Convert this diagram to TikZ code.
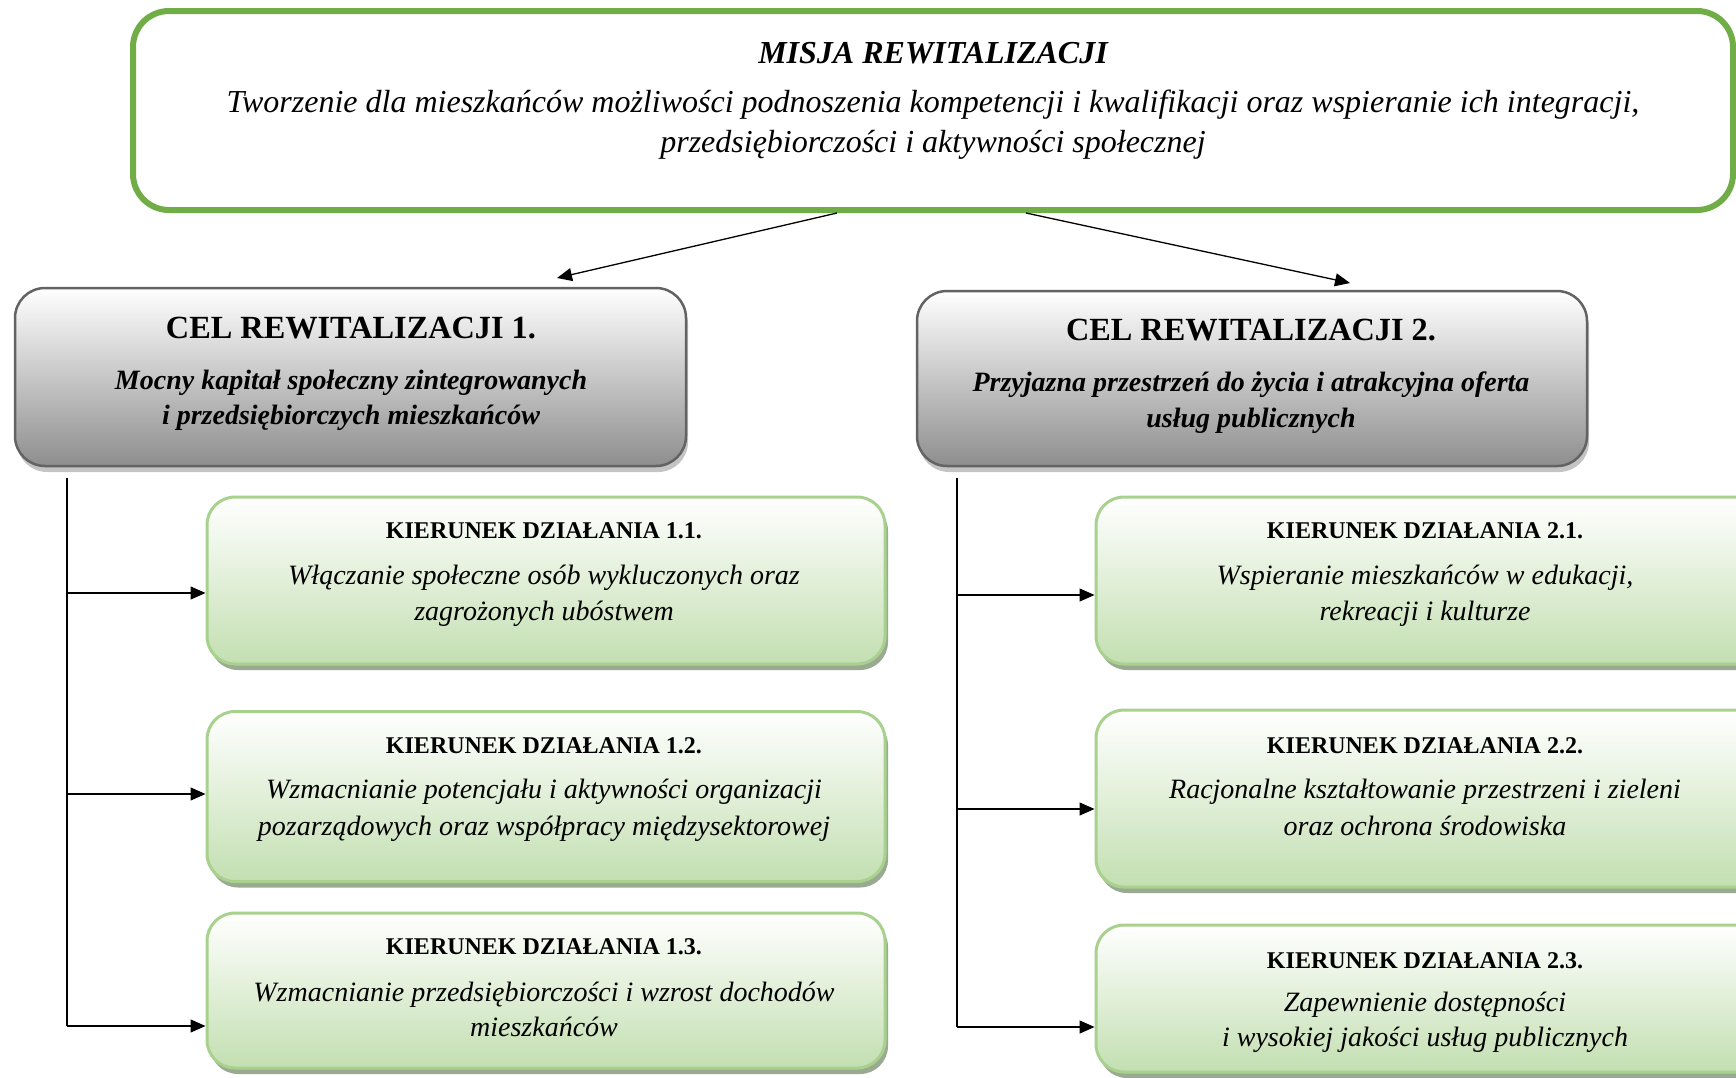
\documentclass[tikz,border=0pt]{standalone}
\usepackage{fontspec}
\setmainfont{Liberation Serif}
\usetikzlibrary{arrows.meta,shadows}
\definecolor{misgreen}{HTML}{70AD47}
\definecolor{celgray}{HTML}{636363}
\definecolor{celbot}{HTML}{8E8E8E}
\definecolor{celshadow}{HTML}{C4C4C4}
\definecolor{kdgreen}{HTML}{A9D18E}
\definecolor{kdbot}{HTML}{C3DFB1}
\definecolor{kdshadow}{HTML}{9AAA92}
\tikzset{
  misbox/.style={draw=misgreen, line width=6pt, rounded corners=36pt, fill=white, inner sep=0pt},
  celbox/.style={draw=celgray, line width=2.5pt, rounded corners=30pt, top color=white, bottom color=celbot, inner sep=0pt,
    drop shadow={shadow xshift=2pt, shadow yshift=-6pt, fill=celshadow, opacity=1}},
  kdbox/.style={draw=kdgreen, line width=3pt, rounded corners=28pt, top color=white, bottom color=kdbot, inner sep=0pt,
    drop shadow={shadow xshift=3pt, shadow yshift=-6pt, fill=kdshadow, opacity=1}},
  txt/.style={anchor=base, inner sep=0pt},
  mtitle/.style={txt, font=\fontsize{32}{38}\selectfont\bfseries\itshape},
  mbody/.style={txt, font=\fontsize{32}{38}\selectfont\itshape},
  ctitle/.style={txt, font=\fontsize{32.3}{38}\selectfont\bfseries},
  csub/.style={txt, font=\fontsize{28}{33}\selectfont\bfseries\itshape},
  ktitle/.style={txt, font=\fontsize{24}{28}\selectfont\bfseries},
  kbody/.style={txt, font=\fontsize{28}{33}\selectfont\itshape},
  link/.style={line width=1.3pt, -{Triangle[length=15pt,width=13pt]}},
  trunk/.style={line width=1.2pt},
}
\begin{document}
\begin{tikzpicture}[x=1pt,y=-1pt]
\useasboundingbox (0,0) rectangle (1736,1077);
\clip (0,0) rectangle (1736,1077);
% mission
\node[misbox, minimum width=1600pt, minimum height=199pt] (m) at (933,110.5) {};
\node[mtitle] (mt) at (933,63) {MISJA REWITALIZACJI};
\node[mbody] (m1) at (933,112) {Tworzenie dla mieszkańców możliwości podnoszenia kompetencji i kwalifikacji oraz wspieranie ich integracji,};
\node[mbody] (m2) at (933,152) {przedsiębiorczości i aktywności społecznej};
% goals
\node[celbox, minimum width=671pt, minimum height=178pt] (c1) at (350.5,377) {};
\node[ctitle] (c1t) at (351,338) {CEL REWITALIZACJI 1.};
\node[csub] (c1a) at (351,389) {Mocny kapitał społeczny zintegrowanych};
\node[csub] (c1b) at (351,424) {i przedsiębiorczych mieszkańców};
\node[celbox, minimum width=670pt, minimum height=175pt] (c2) at (1252,378.5) {};
\node[ctitle] (c2t) at (1251,340) {CEL REWITALIZACJI 2.};
\node[csub] (c2a) at (1251,391) {Przyjazna przestrzeń do życia i atrakcyjna oferta};
\node[csub] (c2b) at (1251,427) {usług publicznych};
% directions 1
\node[kdbox, minimum width=678pt, minimum height=167pt] (k11) at (546,580.5) {};
\node[ktitle] (k11t) at (544,538) {KIERUNEK DZIAŁANIA 1.1.};
\node[kbody] (k11a) at (544,584) {Włączanie społeczne osób wykluczonych oraz};
\node[kbody] (k11b) at (544,620) {zagrożonych ubóstwem};
\node[kdbox, minimum width=678pt, minimum height=170pt] (k12) at (546,796.5) {};
\node[ktitle] (k12t) at (544,753) {KIERUNEK DZIAŁANIA 1.2.};
\node[kbody] (k12a) at (544,798) {Wzmacnianie potencjału i aktywności organizacji};
\node[kbody] (k12b) at (544,835) {pozarządowych oraz współpracy międzysektorowej};
\node[kdbox, minimum width=678pt, minimum height=155pt] (k13) at (546,990.5) {};
\node[ktitle] (k13t) at (544,954) {KIERUNEK DZIAŁANIA 1.3.};
\node[kbody] (k13a) at (544,1001) {Wzmacnianie przedsiębiorczości i wzrost dochodów};
\node[kbody] (k13b) at (544,1036) {mieszkańców};
% directions 2
\node[kdbox, minimum width=678pt, minimum height=167pt] (k21) at (1435,580.5) {};
\node[ktitle] (k21t) at (1425,538) {KIERUNEK DZIAŁANIA 2.1.};
\node[kbody] (k21a) at (1425,584) {Wspieranie mieszkańców w edukacji,};
\node[kbody] (k21b) at (1425,620) {rekreacji i kulturze};
\node[kdbox, minimum width=678pt, minimum height=177pt] (k22) at (1435,798.5) {};
\node[ktitle] (k22t) at (1425,753) {KIERUNEK DZIAŁANIA 2.2.};
\node[kbody] (k22a) at (1425,798) {Racjonalne kształtowanie przestrzeni i zieleni};
\node[kbody] (k22b) at (1425,835) {oraz ochrona środowiska};
\node[kdbox, minimum width=678pt, minimum height=147pt] (k23) at (1435,998.5) {};
\node[ktitle] (k23t) at (1425,968) {KIERUNEK DZIAŁANIA 2.3.};
\node[kbody] (k23a) at (1425,1011) {Zapewnienie dostępności};
\node[kbody] (k23b) at (1425,1046) {i wysokiej jakości usług publicznych};
% connectors from mission
\coordinate (tip1) at (557,278);
\coordinate (tip2) at (1350,283);
\draw[link] ([xshift=-96pt]m.south) -- (tip1);
\draw[link] ([xshift=93pt]m.south) -- (tip2);
% trunks
\coordinate (t1s) at (67,478);
\coordinate (t1e) at (67,1026);
\coordinate (t2s) at (957,478);
\coordinate (t2e) at (957,1027);
\draw[trunk] (t1s) -- (t1e);
\draw[trunk, line width=2.4pt] (t2s) -- (t2e);
\draw[link] (67,593) -- (k11.west |- 0,593);
\draw[link] (67,794) -- (k12.west |- 0,794);
\draw[link] (t1e) -- (k13.west |- t1e);
\draw[link] (957,595) -- (k21.west |- 0,595);
\draw[link] (957,809) -- (k22.west |- 0,809);
\draw[link] (t2e) -- (k23.west |- t2e);
\end{tikzpicture}
\end{document}
